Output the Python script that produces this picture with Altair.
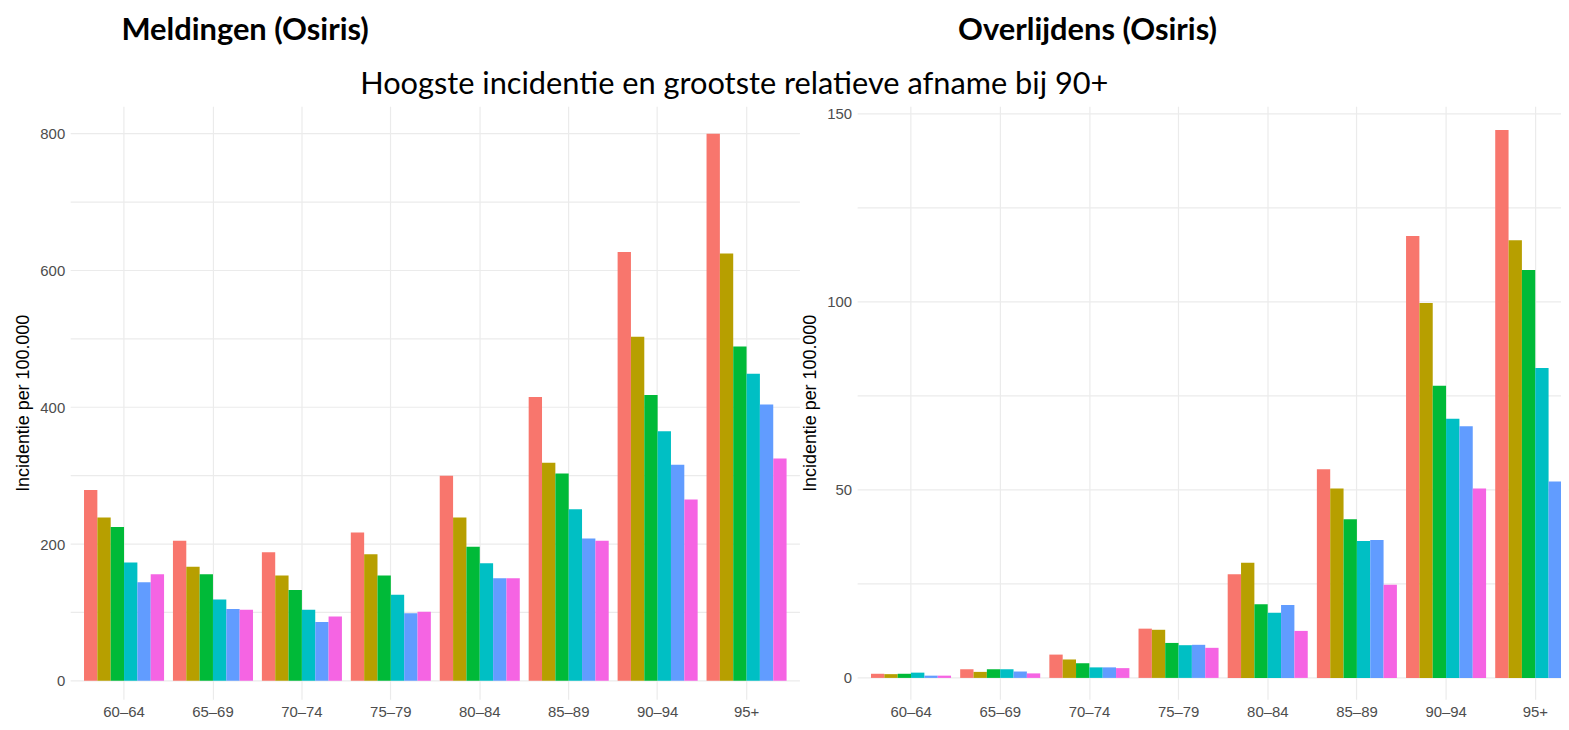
import altair as alt
import pandas as pd

age_groups = ['60–64', '65–69', '70–74', '75–79', '80–84', '85–89', '90–94', '95+']
periods = ['Periode 1', 'Periode 2', 'Periode 3', 'Periode 4', 'Periode 5', 'Periode 6']
colors = ['#F8766D', '#B79F00', '#00BA38', '#00BFC4', '#619CFF', '#F564E3']

# Meldingen (Osiris), incidentie per 100.000
meld_p1 = [279, 205, 188, 217, 300, 415, 627, 800]
meld_p2 = [239, 167, 154, 185, 239, 319, 503, 625]
meld_p3 = [225, 156, 133, 154, 196, 303, 418, 489]
meld_p4 = [173, 119, 104, 126, 172, 251, 365, 449]
meld_p5 = [144, 105, 86, 99, 150, 208, 316, 404]
meld_p6 = [156, 104, 94, 101, 150, 205, 265, 325]

# Overlijdens (Osiris), incidentie per 100.000
overl_p1 = [1.1, 2.3, 6.2, 13.1, 27.6, 55.5, 117.5, 145.7]
overl_p2 = [1.0, 1.6, 4.9, 12.8, 30.6, 50.4, 99.7, 116.4]
overl_p3 = [1.1, 2.3, 3.9, 9.3, 19.6, 42.2, 77.7, 108.5]
overl_p4 = [1.4, 2.3, 2.8, 8.7, 17.3, 36.4, 68.9, 82.4]
overl_p5 = [0.6, 1.7, 2.8, 8.8, 19.4, 36.7, 66.9, 52.2]
overl_p6 = [0.6, 1.2, 2.6, 8.0, 12.5, 24.8, 50.4, 59.9]

meld_grid = [0, 100, 200, 300, 400, 500, 600, 700, 800]
overl_grid = [0, 25, 50, 75, 100, 125, 150]

subtitle = 'Hoogste incidentie en grootste relatieve afname bij 90+'


def long_table(series):
    rows = []
    for period, values in zip(periods, series):
        for age, v in zip(age_groups, values):
            rows.append({'leeftijd': age, 'periode': period, 'incidentie': v})
    return pd.DataFrame(rows)


meldingen = long_table([meld_p1, meld_p2, meld_p3, meld_p4, meld_p5, meld_p6])
overlijdens = long_table([overl_p1, overl_p2, overl_p3, overl_p4, overl_p5, overl_p6])


def panel(df, title, dx, y_domain, grid, label_step, width):
    x_scale = alt.Scale(paddingInner=0.1, paddingOuter=0.15)
    y_scale = alt.Scale(domain=y_domain, nice=False, zero=False)
    y_axis = alt.Axis(values=grid, grid=False,
                      labelExpr=f"datum.value % {label_step} == 0 ? datum.label : ''")

    # horizontal grid lines (major + minor), drawn under the bars
    gridlines = alt.Chart(pd.DataFrame({'v': grid})).mark_rule(
        color='#EBEBEB', strokeWidth=1.2
    ).encode(y=alt.Y('v:Q', scale=y_scale, axis=y_axis, title='Incidentie per 100.000'))

    bars = alt.Chart(df).mark_bar().encode(
        x=alt.X('leeftijd:N', sort=age_groups, scale=x_scale, title=None,
                axis=alt.Axis(labelAngle=0, bandPosition=0.5, grid=True, labelPadding=5)),
        xOffset=alt.XOffset('periode:N', sort=periods,
                            scale=alt.Scale(paddingInner=0, paddingOuter=0)),
        y=alt.Y('incidentie:Q', title='Incidentie per 100.000', scale=y_scale, axis=y_axis),
        color=alt.Color('periode:N', sort=periods,
                        scale=alt.Scale(domain=periods, range=colors), legend=None),
    )

    return alt.layer(gridlines, bars).properties(
        width=width, height=596,
        title=alt.TitleParams(title, anchor='start', frame='group', dx=dx, offset=36,
                              baseline='alphabetic', font='Lato', fontSize=31,
                              fontWeight='bold', color='#000000'))


left = panel(meldingen, 'Meldingen (Osiris)', 51, [-27, 840], meld_grid, 200, 733)
# the right panel runs past the edge of the picture, as in the original screenshot
right = panel(overlijdens, 'Overlijdens (Osiris)', 101, [-5.69, 152], overl_grid, 50, 735)

chart = alt.hconcat(left, right, spacing=0).properties(
    title=alt.TitleParams(subtitle, anchor='start', frame='group', dx=291, offset=-110.5,
                          baseline='alphabetic', font='Lato', fontSize=30.9,
                          fontWeight='normal', color='#000000'),
    autosize=alt.AutoSizeParams(type='none'),
    padding={'left': 63, 'top': 95.5, 'right': 1498, 'bottom': 614.5},
).configure_view(
    stroke=None
).configure_axis(
    domain=False, ticks=False, gridColor='#EBEBEB', gridWidth=1.2,
    labelFont='Liberation Sans', labelFontSize=15, labelColor='#4D4D4D',
    titleFont='Liberation Sans', titleFontSize=18, titleFontWeight='normal',
    titleColor='#000000', titlePadding=7
).configure_axisY(
    labelPadding=6
)

chart.save("out.html", embed_options={"renderer": "svg", "actions": False})
